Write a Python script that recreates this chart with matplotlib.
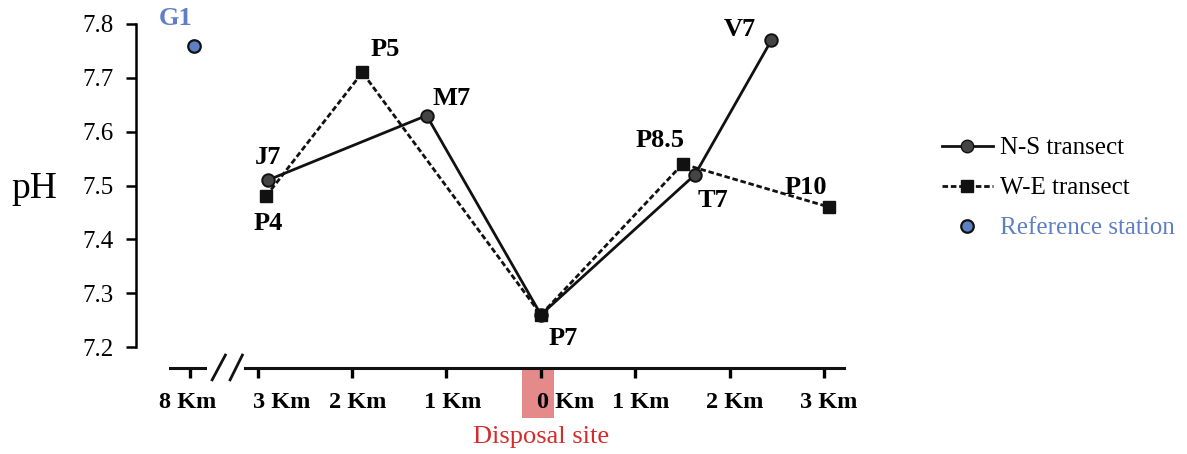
import matplotlib.pyplot as plt
from matplotlib.lines import Line2D
from matplotlib.patches import Rectangle
from matplotlib.transforms import ScaledTranslation

plt.rcParams['font.family'] = ['Liberation Serif', 'DejaVu Serif']

# distance axis: west/north side negative, disposal site at 0
ns_names = ['J7', 'M7', 'P7', 'T7', 'V7']
ns_x = [-2.89, -1.21, 0.0, 1.63, 2.44]
ns_ph = [7.51, 7.63, 7.26, 7.52, 7.77]

we_names = ['P4', 'P5', 'P7', 'P8.5', 'P10']
we_x = [-2.91, -1.89, 0.0, 1.50, 3.05]
we_ph = [7.48, 7.71, 7.26, 7.54, 7.46]

ref_name = 'G1'
ref_x = -3.67
ref_ph = 7.76

tick_pos = [-3.71, -3, -2, -1, 0, 1, 2, 3]
tick_labels = ['8 Km', '3 Km', '2 Km', '1 Km', '0 Km', '1 Km', '2 Km', '3 Km']
tick_shift = [-3, 24, 6, 6, 25, 5, 5, 4]  # px, labels are not centred in the original

# label offsets in pixels (dx, dy)
ns_off = {'J7': (0, 23), 'M7': (25, 17), 'P7': (22, -24), 'T7': (18, -26), 'V7': (-32, 11)}
we_off = {'P4': (2, -27), 'P5': (23, 23), 'P8.5': (-23, 23), 'P10': (-23, 20)}

fig = plt.figure(figsize=(11.87, 4.54), dpi=100)
ax = fig.add_axes([136 / 1187, 1 - 368 / 454, (848 - 136) / 1187, (368 - 10) / 454])
ax.set_xlim(-4.286, 3.25)
ax.set_ylim(7.161, 7.826)

ref_blue = '#5f7fc4'
ax.plot(ns_x, ns_ph, color='#111111', lw=2, marker='o', ms=9,
        mfc='#444444', mec='#111111', mew=1.4, zorder=3)
ax.plot(we_x, we_ph, color='#111111', lw=2, ls=(0, (2, 1)), marker='s', ms=9,
        mfc='#111111', mec='#111111', zorder=4)
ax.plot([ref_x], [ref_ph], ls='none', marker='o', ms=9, mfc=ref_blue, mec='#111111',
        mew=1.6, zorder=4)

lab_kw = dict(textcoords='offset pixels', ha='center', va='center',
              fontsize=19, fontweight='bold', zorder=6)
for n, x, y in zip(ns_names, ns_x, ns_ph):
    ax.annotate(n, (x, y), xytext=ns_off[n], **lab_kw)
for n, x, y in zip(we_names, we_x, we_ph):
    if n in we_off:
        ax.annotate(n, (x, y), xytext=we_off[n], **lab_kw)
ax.annotate(ref_name, (ref_x, ref_ph), xytext=(-19, 27), color=ref_blue, **lab_kw)

# axes styling
for s in ['top', 'right', 'bottom']:
    ax.spines[s].set_visible(False)
ax.spines['left'].set_bounds(7.2, 7.8)
ax.spines['left'].set_linewidth(1.8)
ax.set_yticks([7.2, 7.3, 7.4, 7.5, 7.6, 7.7, 7.8])
ax.tick_params(axis='y', direction='out', length=7, width=1.8, labelsize=18, pad=9)
ax.set_xticks(tick_pos)
ax.set_xticklabels(tick_labels, fontsize=17.5, fontweight='bold')
ax.tick_params(axis='x', direction='out', length=7, width=2.4, pad=10)
for lab, dx in zip(ax.get_xticklabels(), tick_shift):
    lab.set_transform(lab.get_transform() + ScaledTranslation(dx / 100, 0, fig.dpi_scale_trans))
ax.set_ylabel('pH', fontsize=27, rotation=0, labelpad=35, va='center')

# broken x axis
y0 = 7.161
ax.plot([-3.93, -3.56], [y0, y0], color='#111111', lw=2.2, clip_on=False, zorder=5)
ax.plot([-3.13, 3.21], [y0, y0], color='#111111', lw=2.2, clip_on=False, zorder=5)
for xa, xb in ((-3.48, -3.34), (-3.29, -3.16)):
    ax.plot([xa, xb], [7.139, 7.185], color='#111111', lw=2, clip_on=False, zorder=5)

# disposal site marker
ax.add_patch(Rectangle((-0.2, y0 - 0.093), 0.34, 0.093, facecolor='#e58a8a',
                       edgecolor='none', clip_on=False, zorder=0))
fig.text(541 / 1187, 1 - 437 / 454, 'Disposal site', color='#d52b2b', fontsize=19,
         ha='center', va='center')

handles = [
    Line2D([], [], color='#111111', lw=2, marker='o', ms=9, mfc='#444444', mec='#111111'),
    Line2D([], [], color='#111111', lw=2, ls=(0, (2, 1)), marker='s', ms=9,
           mfc='#111111', mec='#111111'),
    Line2D([], [], ls='none', marker='o', ms=9, mfc=ref_blue, mec='#111111', mew=1.6),
]
leg = fig.legend(handles, ['N-S transect', 'W-E transect', 'Reference station'],
                 loc='center left', bbox_to_anchor=(919 / 1187, 1 - 188 / 454),
                 frameon=False, fontsize=18, handlelength=2.05, handletextpad=0.3,
                 labelspacing=0.7)
leg.get_texts()[2].set_color(ref_blue)

fig.savefig('out.png', dpi=100)
